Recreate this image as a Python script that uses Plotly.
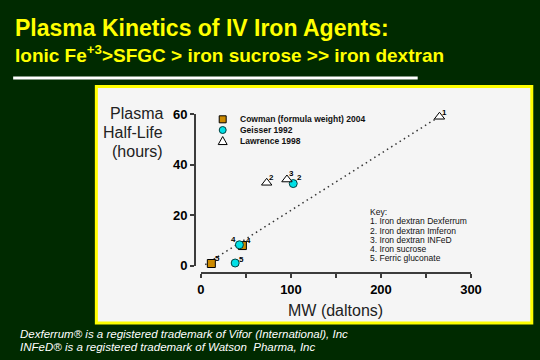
import plotly.graph_objects as go

# ---------------- data ----------------
cowman_x = [11.5, 46.0]
cowman_y = [0.9, 8.0]
cowman_lbl = ["5", "4"]

geisser_x = [38.0, 42.7, 102.5]
geisser_y = [1.1, 8.3, 32.5]
geisser_lbl = ["5", "4", "2"]

lawrence_x = [73.0, 95.5, 265.0]
lawrence_y = [32.8, 34.1, 58.9]
lawrence_lbl = ["2", "3", "1"]

trend_x = [0.0, 260.0]
trend_y = [-0.6, 57.9]

x_tickvals = [0, 100, 200, 300]
x_ticktext = ["0", "100", "200", "300"]
y_tickvals = [0, 20, 40, 60]
y_ticktext = ["0", "20", "40", "60"]

series_names = ["Cowman (formula weight) 2004", "Geisser 1992", "Lawrence 1998"]
key_lines = ["Key:", "1. Iron dextran Dexferrum", "2. Iron dextran Imferon",
             "3. Iron dextran INFeD", "4. Iron sucrose", "5. Ferric gluconate"]

title1 = "Plasma Kinetics of IV Iron Agents:"
title2 = "Ionic Fe<sup>+3</sup>>SFGC > iron sucrose >> iron dextran"
ytitle_lines = ["Plasma", "Half-Life", "(hours)"]
xtitle = "MW (daltons)"
foot_lines = ["Dexferrum\u00ae is a registered trademark of Vifor (International), Inc",
              "INFeD\u00ae is a registered trademark of Watson  Pharma, Inc"]

# ---------------- layout geometry (pixels) ----------------
WIDTH, HEIGHT = 540, 360
L, R, T, B = 194.5, 68.5, 114.0, 87.3
W = WIDTH - L - R
H = HEIGHT - T - B


def px(x):
    return (x - L) / W


def py(y):
    return 1 - (y - T) / H


BG = "#002A00"
PANEL = "#F5F5F5"
YELLOW = "#FFFF00"
AXC = "#3C3C3C"
FONT = "Liberation Sans, Arial, sans-serif"

SQ_COLOR = "#CC8A00"
CY_COLOR = "#00E0E6"
TRI_COLOR = "#FFFFFF"

fig = go.Figure()

fig.add_trace(go.Scatter(x=trend_x, y=trend_y, mode="lines",
                         line=dict(color="#333333", width=1.5, dash="1.5px,3.5px"),
                         hoverinfo="skip", cliponaxis=False))

marker_styles = [
    dict(symbol="square", size=8, color=SQ_COLOR, line=dict(color="#000000", width=1)),
    dict(symbol="circle", size=8, color=CY_COLOR, line=dict(color="#004040", width=1)),
    dict(symbol="triangle-up", size=9, color=TRI_COLOR, line=dict(color="#000000", width=1)),
]
all_x = [cowman_x, geisser_x, lawrence_x]
all_y = [cowman_y, geisser_y, lawrence_y]
all_lbl = [cowman_lbl, geisser_lbl, lawrence_lbl]

for name, xs, ys, ms in zip(series_names, all_x, all_y, marker_styles):
    fig.add_trace(go.Scatter(x=xs, y=ys, mode="markers", name=name,
                             marker=ms, cliponaxis=False))

# point label offsets (pixels)
offsets = [
    [(6, 5), (6, 5)],
    [(6, 4), (-6, 5), (6, 6)],
    [(5, 5), (5, 6), (5, 4)],
]
for xs, ys, lbls, offs in zip(all_x, all_y, all_lbl, offsets):
    for xv, yv, lb, (dx, dy) in zip(xs, ys, lbls, offs):
        fig.add_annotation(x=xv, y=yv, xref="x", yref="y", text=lb, showarrow=False,
                           xshift=dx, yshift=dy, xanchor="center", yanchor="middle",
                           font=dict(family=FONT, size=8, color="#000000", weight="bold"))

shapes = []
# panel
shapes.append(dict(type="rect", xref="paper", yref="paper",
                   x0=px(95.5), x1=px(532.5), y0=py(322.5), y1=py(86.5),
                   fillcolor=PANEL, line=dict(color=YELLOW, width=3), layer="below"))
# white rule under title
shapes.append(dict(type="line", xref="paper", yref="paper",
                   x0=px(12), x1=px(418), y0=py(78), y1=py(78),
                   line=dict(color="#FFFFFF", width=3)))

# manual legend
leg_x = 222.3
leg_rows = [119.3, 130.0, 141.0]
s = 3.5
shapes.append(dict(type="rect", xref="paper", yref="paper",
                   x0=px(leg_x - s), x1=px(leg_x + s), y0=py(leg_rows[0] + s), y1=py(leg_rows[0] - s),
                   fillcolor=SQ_COLOR, line=dict(color="#000000", width=1)))
shapes.append(dict(type="circle", xref="paper", yref="paper",
                   x0=px(leg_x - s), x1=px(leg_x + s), y0=py(leg_rows[1] + s), y1=py(leg_rows[1] - s),
                   fillcolor=CY_COLOR, line=dict(color="#004040", width=1)))
ty = leg_rows[2]
tri_path = "M {} {} L {} {} L {} {} Z".format(px(leg_x - 4.5), py(ty + 3.5), px(leg_x + 4.5), py(ty + 3.5),
                                             px(leg_x), py(ty - 4.5))
shapes.append(dict(type="path", xref="paper", yref="paper", path=tri_path,
                   fillcolor=TRI_COLOR, line=dict(color="#000000", width=1)))

annotations = []
for name, yy in zip(series_names, leg_rows):
    annotations.append(dict(x=px(237.7), y=py(yy), xref="paper", yref="paper", text=name,
                            showarrow=False, xanchor="left", yanchor="middle",
                            font=dict(family=FONT, size=8.5, color="#111111", weight="bold")))

# key
key_y0, key_dy = 211.7, 9.3
for i, line in enumerate(key_lines):
    annotations.append(dict(x=px(368), y=py(key_y0 + i * key_dy), xref="paper", yref="paper",
                            text=line, showarrow=False, xanchor="left", yanchor="middle",
                            font=dict(family=FONT, size=8.5, color="#111111")))

# titles
annotations.append(dict(x=px(12), y=py(28), xref="paper", yref="paper", text=title1,
                        showarrow=False, xanchor="left", yanchor="middle",
                        font=dict(family=FONT, size=23, color=YELLOW, weight="bold")))
annotations.append(dict(x=px(12), y=py(54), xref="paper", yref="paper", text=title2,
                        showarrow=False, xanchor="left", yanchor="middle",
                        font=dict(family=FONT, size=19, color=YELLOW, weight="bold")))

# y-axis title
for line, yy in zip(ytitle_lines, [113.5, 132.0, 151.0]):
    annotations.append(dict(x=px(164), y=py(yy), xref="paper", yref="paper", text=line,
                            showarrow=False, xanchor="right", yanchor="middle",
                            font=dict(family=FONT, size=16, color="#222222")))
# x-axis title
annotations.append(dict(x=px(336), y=py(310), xref="paper", yref="paper", text=xtitle,
                        showarrow=False, xanchor="center", yanchor="middle",
                        font=dict(family=FONT, size=16, color="#222222")))
# footnotes
for line, yy in zip(foot_lines, [333.5, 346.5]):
    annotations.append(dict(x=px(17), y=py(yy), xref="paper", yref="paper", text=line,
                            showarrow=False, xanchor="left", yanchor="middle",
                            font=dict(family=FONT, size=11.5, color="#FFFFFF", style="italic")))

axis_common = dict(showgrid=False, zeroline=False, showline=True, linecolor=AXC, linewidth=2,
                   ticks="outside", ticklen=4, tickcolor=AXC, tickwidth=1.5,
                   tickfont=dict(family=FONT, size=13, color="#000000", weight="bold"))

fig.update_layout(
    width=WIDTH, height=HEIGHT,
    margin=dict(l=L, r=R, t=T, b=B, pad=0),
    paper_bgcolor=BG, plot_bgcolor="rgba(0,0,0,0)",
    showlegend=False,
    shapes=shapes, annotations=fig.layout.annotations + tuple(annotations),
    xaxis=dict(range=[0, 300], domain=[(200.5 - L) / W, 1], anchor="free", position=0,
               tickvals=x_tickvals, ticktext=x_ticktext,
               minor=dict(dtick=50, ticks="outside", ticklen=4, tickcolor=AXC, tickwidth=1.5),
               **axis_common),
    yaxis=dict(range=[0, 60], domain=[(272.7 - 265.5) / H, 1],
               anchor="free", position=0,
               tickvals=y_tickvals, ticktext=y_ticktext, **axis_common),
)

post = ("document.documentElement.style.margin='0';document.body.style.margin='0';"
        "document.body.style.padding='0';document.body.style.background='%s';"
        "document.documentElement.style.background='%s';" % (BG, BG))
fig.write_html("out.html", post_script=post, config={"displayModeBar": False})
